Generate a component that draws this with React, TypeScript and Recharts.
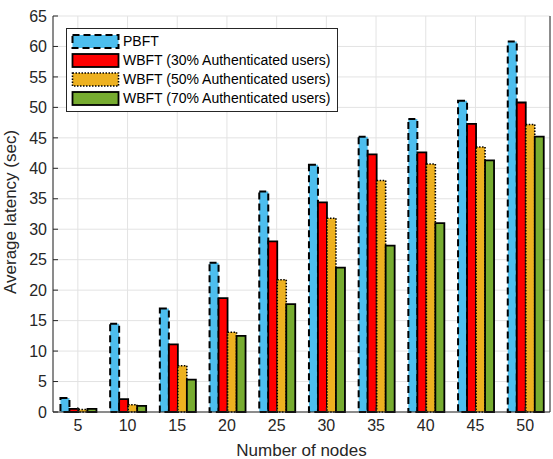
import React from 'react';
import { BarChart, Bar, XAxis, YAxis, CartesianGrid, Legend } from 'recharts';

const nodes = ['5', '10', '15', '20', '25', '30', '35', '40', '45', '50'];
const pbft = [2.3, 14.5, 17.0, 24.5, 36.2, 40.6, 45.2, 48.1, 51.1, 60.8];
const wbft30 = [0.5, 2.1, 11.1, 18.7, 28.0, 34.4, 42.3, 42.6, 47.3, 50.8];
const wbft50 = [0.4, 1.2, 7.6, 13.1, 21.7, 31.8, 38.0, 40.7, 43.5, 47.2];
const wbft70 = [0.5, 1.0, 5.3, 12.5, 17.7, 23.7, 27.3, 31.0, 41.3, 45.2];
const yTicks = [0, 5, 10, 15, 20, 25, 30, 35, 40, 45, 50, 55, 60, 65];

const series = [
  { key: 'pbft', name: 'PBFT', fill: '#4DBEEE', dash: '7 4', width: 2 },
  { key: 'w30', name: 'WBFT (30% Authenticated users)', fill: '#FF0000', dash: undefined, width: 1.8 },
  { key: 'w50', name: 'WBFT (50% Authenticated users)', fill: '#EDB120', dash: '1.5 1.5', width: 1.6 },
  { key: 'w70', name: 'WBFT (70% Authenticated users)', fill: '#77AC30', dash: undefined, width: 1.8 },
];

const data = nodes.map((n, i) => ({
  n,
  pbft: pbft[i],
  w30: wbft30[i],
  w50: wbft50[i],
  w70: wbft70[i],
}));

const font = '"Liberation Sans", Arial, Helvetica, sans-serif';
const axisColor = '#262626';

const LegendBox = () => (
  <div
    style={{
      border: '1px solid #262626',
      background: '#fff',
      padding: '3px 6px 3px 4px',
      fontFamily: font,
      fontSize: 14,
      color: '#000',
      lineHeight: '19px',
      whiteSpace: 'nowrap',
    }}
  >
    {series.map((s) => (
      <div key={s.key} style={{ display: 'flex', alignItems: 'center' }}>
        <svg width={50} height={19} style={{ marginRight: 2 }}>
          <rect x={1.5} y={3} width={46} height={13} fill={s.fill} stroke="#000" strokeWidth={s.width} strokeDasharray={s.dash} />
        </svg>
        <span>{s.name}</span>
      </div>
    ))}
  </div>
);

const App: React.FC = () => {
  return (
    <div style={{ position: 'absolute', left: 0, top: 0, width: 553, height: 459, background: '#fff' }}>
      <BarChart
        width={553}
        height={459}
        data={data}
        margin={{ top: 16, right: 0, bottom: 0, left: 18 }}
        barCategoryGap="15%"
        barGap={0}
      >
        <CartesianGrid stroke="#e3e3e3" strokeWidth={1} />
        <XAxis
          dataKey="n"
          height={47}
          stroke={axisColor}
          tickSize={-5}
          tickMargin={13}
          tick={{ fill: axisColor, fontSize: 16, fontFamily: font }}
          label={{ value: 'Number of nodes', position: 'insideBottom', offset: 3, fill: axisColor, fontSize: 17, fontFamily: font }}
        />
        <XAxis
          xAxisId="top"
          dataKey="n"
          orientation="top"
          height={0}
          stroke={axisColor}
          tickSize={-5}
          tickFormatter={() => ''}
        />
        <YAxis
          width={35}
          domain={[0, 65]}
          ticks={yTicks}
          interval={0}
          stroke={axisColor}
          tickSize={-5}
          tickMargin={11}
          tick={{ fill: axisColor, fontSize: 16, fontFamily: font }}
          label={{ value: 'Average latency (sec)', angle: -90, position: 'insideLeft', dx: -13, dy: 80, fill: axisColor, fontSize: 17, fontFamily: font }}
        />
        <YAxis
          yAxisId="right"
          orientation="right"
          width={3}
          domain={[0, 65]}
          ticks={yTicks}
          interval={0}
          stroke={axisColor}
          tickSize={-5}
          tickFormatter={() => ''}
        />
        <Legend
          content={<LegendBox />}
          layout="vertical"
          align="center"
          verticalAlign="middle"
          wrapperStyle={{ left: 66, top: 28, width: 'auto' }}
        />
        {series.map((s) => (
          <Bar
            key={s.key}
            dataKey={s.key}
            name={s.name}
            fill={s.fill}
            stroke="#000"
            strokeWidth={s.width}
            strokeDasharray={s.dash}
            isAnimationActive={false}
          />
        ))}
      </BarChart>
    </div>
  );
};

export default App;
